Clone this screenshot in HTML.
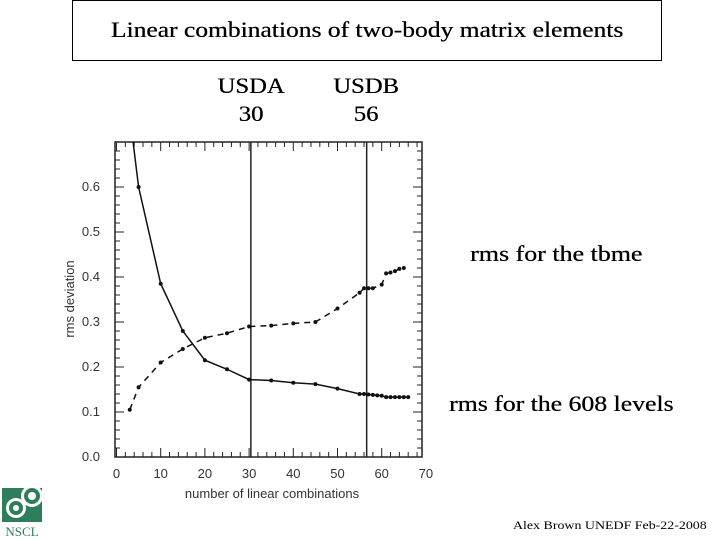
<!DOCTYPE html>
<html><head><meta charset="utf-8"><style>
body{margin:0;background:#fff;width:720px;height:540px;overflow:hidden;position:relative;font-family:"Liberation Serif",serif}
.t{position:absolute;white-space:nowrap;color:#000;text-shadow:0.3px 0 0 #000}
</style></head><body>
<div style="position:absolute;left:72px;top:0;width:588px;height:59px;border:1px solid #000"></div>
<div class="t" style="left:72px;width:590px;top:17px;text-align:center;font-size:22px;transform:scaleX(1.16)">Linear combinations of two-body matrix elements</div>
<div class="t" style="left:211px;width:80px;top:72px;text-align:center;font-size:22px;line-height:28px;transform:scaleX(1.12)">USDA<br>30</div>
<div class="t" style="left:326px;width:80px;top:72px;text-align:center;font-size:22px;line-height:28px;transform:scaleX(1.12)">USDB<br>56</div>
<div class="t" style="left:470px;top:241px;font-size:22px;transform:scaleX(1.18);transform-origin:left">rms for the tbme</div>
<div class="t" style="left:449px;top:391px;font-size:22px;transform:scaleX(1.17);transform-origin:left">rms for the 608 levels</div>
<div class="t" style="left:513px;top:518px;font-size:12px;transform:scaleX(1.16);transform-origin:left;text-shadow:none">Alex Brown UNEDF Feb-22-2008</div>
<svg style="position:absolute;left:2px;top:486px" width="42" height="54">
<rect x="0" y="2" width="40" height="34" fill="#2e7d5b"/>
<circle cx="30" cy="10" r="11" fill="#fff"/><circle cx="30" cy="10" r="8" fill="#2e7d5b"/><circle cx="30" cy="10" r="4" fill="#fff"/>
<circle cx="14" cy="22" r="10" fill="#fff"/><circle cx="14" cy="22" r="7" fill="#2e7d5b"/><circle cx="14" cy="22" r="3" fill="#fff"/>
<text x="20" y="50" font-family="Liberation Serif,serif" font-size="13" fill="#2e7d5b" text-anchor="middle">NSCL</text>
</svg>
<svg id="chart" style="position:absolute;left:0;top:0" width="720" height="540"></svg>
<script>
const xTicks=[0,10,20,30,40,50,60,70];
const yTicks=[0.0,0.1,0.2,0.3,0.4,0.5,0.6];
const markers=[30.4,56.6];
const levelsX=[3,5,10,15,20,25,30,35,40,45,50,55,56,57,58,59,60,61,62,63,64,65,66];
const levelsY=[0.76,0.60,0.385,0.28,0.215,0.195,0.172,0.17,0.165,0.162,0.152,0.14,0.14,0.139,0.138,0.137,0.136,0.133,0.133,0.133,0.133,0.133,0.133];
const tbmeX=[3,5,10,15,20,25,30,35,40,45,50,55,56,57,58,60,61,62,63,64,65];
const tbmeY=[0.105,0.155,0.21,0.24,0.265,0.275,0.29,0.292,0.297,0.3,0.33,0.365,0.375,0.375,0.375,0.383,0.408,0.41,0.413,0.418,0.42];
const X0=116.5,KX=4.42,Y0=457,KY=450,L=115,R=422,T=142,B=457;
const sx=v=>X0+v*KX, sy=v=>Y0-v*KY;
const svg=document.getElementById('chart');const NS='http://www.w3.org/2000/svg';
function mk(t,a){const e=document.createElementNS(NS,t);for(const k in a)e.setAttribute(k,a[k]);svg.appendChild(e);return e;}
const defs=mk('defs',{});const cp=document.createElementNS(NS,'clipPath');cp.setAttribute('id','c');defs.appendChild(cp);
const cr=document.createElementNS(NS,'rect');cr.setAttribute('x',L);cr.setAttribute('y',T);cr.setAttribute('width',R-L);cr.setAttribute('height',B-T);cp.appendChild(cr);
let f=mk('rect',{x:L,y:T,width:R-L,height:B-T,fill:'none',stroke:'#222','stroke-width':1.5});


for(let v=0;v<=68;v+=2){const x=sx(v),len=v%10==0?9:5;
mk('line',{x1:x,x2:x,y1:B,y2:B-len,stroke:'#222'});mk('line',{x1:x,x2:x,y1:T,y2:T+len,stroke:'#222'});}
for(let i=0;i<=35;i++){const v=i*0.02,y=sy(v),len=i%5==0?9:5;if(y<T)continue;
mk('line',{x1:L,x2:L+len,y1:y,y2:y,stroke:'#222'});mk('line',{x1:R,x2:R-len,y1:y,y2:y,stroke:'#222'});}
xTicks.forEach(v=>{const t=mk('text',{x:sx(v),y:478,'text-anchor':'middle','font-size':13,'font-family':'Liberation Sans,sans-serif',fill:'#333'});t.textContent=v;

});
yTicks.forEach(v=>{const t=mk('text',{x:100,y:sy(v)+4,'text-anchor':'end','font-size':13,'font-family':'Liberation Sans,sans-serif',fill:'#333'});t.textContent=v.toFixed(1);

});
let xl=mk('text',{x:272,y:498,'text-anchor':'middle','font-size':13,'font-family':'Liberation Sans,sans-serif',fill:'#333'});xl.textContent='number of linear combinations';


let yl=mk('text',{x:74,y:299,'text-anchor':'middle','font-size':13,'font-family':'Liberation Sans,sans-serif',fill:'#333',transform:'rotate(-90 74 299)'});yl.textContent='rms deviation';


markers.forEach(m=>{const l=mk('line',{x1:sx(m),x2:sx(m),y1:T,y2:B,stroke:'#222','stroke-width':1.5});

});
function series(xs,ys,dash,name){const g=mk('g',{'clip-path':'url(#c)'});


const p=document.createElementNS(NS,'polyline');p.setAttribute('points',xs.map((x,i)=>sx(x)+','+sy(ys[i])).join(' '));
p.setAttribute('fill','none');p.setAttribute('stroke','#111');p.setAttribute('stroke-width','1.5');if(dash)p.setAttribute('stroke-dasharray',dash);g.appendChild(p);
xs.forEach((x,i)=>{const c=document.createElementNS(NS,'circle');c.setAttribute('cx',sx(x));c.setAttribute('cy',sy(ys[i]));c.setAttribute('r',2);c.setAttribute('fill','#111');

g.appendChild(c);});}
series(levelsX,levelsY,null,'levels-series');
series(tbmeX,tbmeY,'6,5','tbme-series');
</script>
</body></html>
